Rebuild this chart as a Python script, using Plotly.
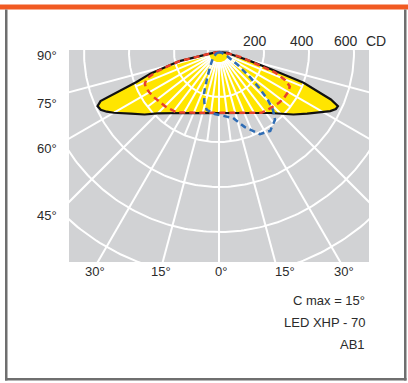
import numpy as np
import plotly.graph_objects as go

# ---------------- data (gamma angle in degrees from nadir, intensity in cd) ----------------
gamma_c0 = [-90, -85, -80, -78, -77, -75, -72.5, -70, -67.5, -66, -64, -62, -60, -55, -50, -45, -40,
            -30, -20, -10, 0, 10, 20, 30, 40, 45, 50, 55, 60, 62, 64, 65.5, 67, 70, 71.5, 74, 78, 84, 90]
cd_c0 = [0, 10, 40, 90, 180, 230, 320, 390, 570, 591, 585, 565, 540, 478, 432, 386, 354,
         313, 289, 275, 271, 275, 289, 313, 354, 386, 432, 478, 537, 560, 578, 581, 540, 400, 250, 143, 60, 40, 0]

gamma_c90 = [-90, -85, -80, -77, -75, -72.5, -70, -67, -64, -60, -55, -50, -45, -40, -35, -30, -20, -10,
             0, 10, 20, 30, 35, 40, 45, 50, 55, 60, 64, 67, 70, 73, 77, 80, 85, 90]
cd_c90 = [0, 10, 40, 180, 225, 290, 340, 358, 362, 358, 352, 346, 340, 333, 328, 311, 287, 274,
          270, 274, 287, 311, 330, 336, 340, 350, 354, 355, 350, 320, 265, 170, 100, 50, 15, 0]

gamma_c15 = [-90, -60, -45, -31, -24, -20, -16, -12, -4, 4, 12, 19, 26.5, 33, 39.5, 43, 45.5, 48, 51,
             55.5, 63, 75, 90]
cd_c15 = [0, 15, 38, 78, 131, 194, 236, 263, 276, 285, 300, 353, 408, 418, 391, 352, 305, 245, 177,
          102, 40, 12, 0]

circle_cd = [200, 400, 600, 800, 1000, 1200, 1400]
inner_circle_cd = 50
major_ray_deg = [-75, -60, -45, -30, -15, 0, 15, 30, 45, 60, 75]
minor_ray_deg = [-67.5, -52.5, -37.5, -22.5, -7.5, 7.5, 22.5, 37.5, 52.5, 67.5]
minor_ray_len = 400
major_ray_len = 1600

scale_labels = ["200", "400", "600", "CD"]
left_angle_labels = ["90°", "75°", "60°", "45°"]
bottom_angle_labels = ["30°", "15°", "0°", "15°", "30°"]
info_lines = ["C max = 15°", "LED XHP - 70", "AB1"]

# ---------------- layout geometry (pixels) ----------------
W, H = 408, 383
L, R, T, B = 69, 369, 50, 262
CX, CY = 219, 52
S = 0.225  # px per cd

def to_xy(g, cd):
    g = np.radians(np.asarray(g, dtype=float))
    cd = np.asarray(cd, dtype=float)
    return cd * np.sin(g), -cd * np.cos(g)

def px(X):
    return (X - L) / (R - L)

def py(Y):
    return (B - Y) / (B - T)

fig = go.Figure()

# yellow fill
x0, y0 = to_xy(gamma_c0, cd_c0)
fig.add_trace(go.Scatter(x=x0, y=y0, mode="lines", fill="toself", fillcolor="#FFE500",
                         line=dict(width=0), hoverinfo="skip"))

# grid circles and rays
gx, gy = [], []
t = np.linspace(0, 2 * np.pi, 361)
for r in circle_cd + [inner_circle_cd]:
    gx += list(r * np.cos(t)) + [None]
    gy += list(r * np.sin(t)) + [None]
for a in major_ray_deg:
    xx, yy = to_xy([a, a], [inner_circle_cd, major_ray_len])
    gx += list(xx) + [None]
    gy += list(yy) + [None]
for a in minor_ray_deg:
    xx, yy = to_xy([a, a], [inner_circle_cd, minor_ray_len])
    gx += list(xx) + [None]
    gy += list(yy) + [None]
fig.add_trace(go.Scatter(x=gx, y=gy, mode="lines", line=dict(color="white", width=2),
                         hoverinfo="skip", connectgaps=False))

# black outline
fig.add_trace(go.Scatter(x=x0, y=y0, mode="lines", line=dict(color="#111111", width=2.2),
                         hoverinfo="skip"))
# red dashed
x1, y1 = to_xy(gamma_c90, cd_c90)
fig.add_trace(go.Scatter(x=x1, y=y1, mode="lines",
                         line=dict(color="#E8412C", width=2.5, dash="6px,4px"), hoverinfo="skip"))
# blue dashed
x2, y2 = to_xy(gamma_c15, cd_c15)
fig.add_trace(go.Scatter(x=x2, y=y2, mode="lines",
                         line=dict(color="#2F6DB5", width=2.5, dash="6px,4px"), hoverinfo="skip"))

# ---------------- annotations ----------------
font = dict(family="Liberation Sans, Arial, sans-serif", size=13, color="#2b2b2b")
ann = []
for txt, X in zip(scale_labels, [255, 302, 346, 376]):
    ann.append(dict(text=txt, x=px(X), y=py(41), xref="paper", yref="paper",
                    xanchor="center", yanchor="middle", showarrow=False, font=dict(font, size=14)))
for txt, Y in zip(left_angle_labels, [55, 103, 148, 215]):
    ann.append(dict(text=txt, x=px(47), y=py(Y), xref="paper", yref="paper",
                    xanchor="center", yanchor="middle", showarrow=False, font=font))
for txt, X in zip(bottom_angle_labels, [95, 161, 221, 285, 344]):
    ann.append(dict(text=txt, x=px(X), y=py(271), xref="paper", yref="paper",
                    xanchor="center", yanchor="middle", showarrow=False, font=font))
for txt, Y in zip(info_lines, [300, 322, 344]):
    ann.append(dict(text=txt, x=px(367), y=py(Y), xref="paper", yref="paper",
                    xanchor="right", yanchor="middle", showarrow=False, font=font))

# ---------------- frame shapes ----------------
border = "#6f6f6f"
shapes = [
    dict(type="rect", xref="paper", yref="paper", x0=px(0), x1=px(408), y0=py(4.5), y1=py(9.5),
         fillcolor="#F15A22", line=dict(width=0), layer="above"),
    dict(type="rect", xref="paper", yref="paper", x0=px(5), x1=px(7.5), y0=py(9.5), y1=py(380.5),
         fillcolor=border, line=dict(width=0), layer="above"),
    dict(type="rect", xref="paper", yref="paper", x0=px(404), x1=px(406.5), y0=py(9.5), y1=py(380.5),
         fillcolor=border, line=dict(width=0), layer="above"),
    dict(type="rect", xref="paper", yref="paper", x0=px(5), x1=px(406.5), y0=py(378), y1=py(380.5),
         fillcolor=border, line=dict(width=0), layer="above"),
]

fig.update_layout(
    width=W, height=H,
    margin=dict(l=L, r=W - R, t=T, b=H - B, pad=0, autoexpand=False),
    paper_bgcolor="white", plot_bgcolor="#D1D2D4",
    showlegend=False,
    xaxis=dict(range=[-(CX - L) / S, (R - CX) / S], showgrid=False, zeroline=False,
               showticklabels=False, ticks="", showline=False, fixedrange=True),
    yaxis=dict(range=[-(B - CY) / S, (CY - T) / S], showgrid=False, zeroline=False,
               showticklabels=False, ticks="", showline=False, fixedrange=True),
    annotations=ann, shapes=shapes,
)

fig.write_html("out.html", config={"displayModeBar": False},
               post_script="document.body.style.margin='0px';document.body.style.overflow='hidden';")
